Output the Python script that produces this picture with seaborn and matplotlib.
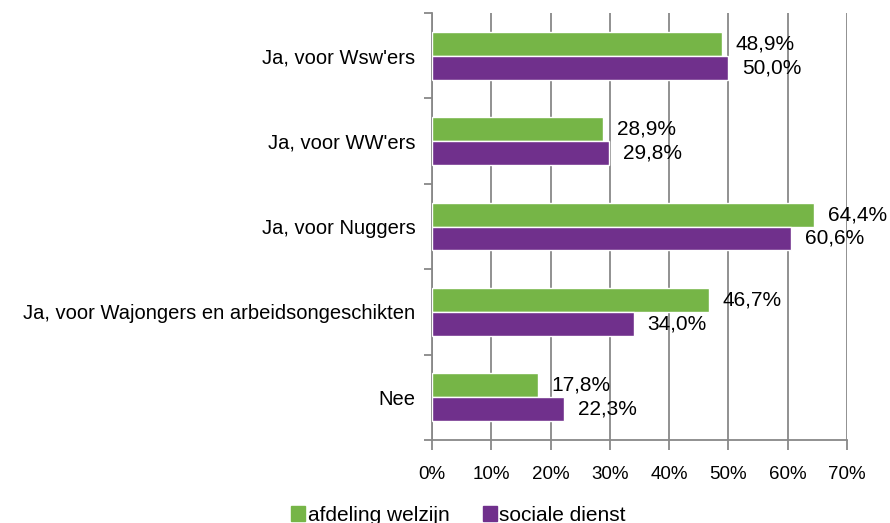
import matplotlib.pyplot as plt
import numpy as np
import pandas as pd
import seaborn as sns

categories = ["Ja, voor Wsw'ers", "Ja, voor WW'ers", "Ja, voor Nuggers",
              "Ja, voor Wajongers en arbeidsongeschikten", "Nee"]
series = ["afdeling welzijn", "sociale dienst"]
welzijn = [48.9, 28.9, 64.4, 46.7, 17.8]
sociale = [50.0, 29.8, 60.6, 34.0, 22.3]
colors = ["#76B547", "#70308C"]

df = pd.DataFrame({
    "categorie": categories * 2,
    "reeks": [series[0]] * len(categories) + [series[1]] * len(categories),
    "waarde": welzijn + sociale,
})

sns.set_style("white")
plt.rcParams['font.family'] = ['Liberation Sans', 'DejaVu Sans']
plt.rcParams['text.color'] = 'black'
plt.rcParams['xtick.labelcolor'] = 'black'
plt.rcParams['ytick.labelcolor'] = 'black'

fig = plt.figure(figsize=(8.9, 5.23), dpi=100)
ax = fig.add_axes([0.4854, 0.1587, 0.4663, 0.8164])

sns.barplot(data=df, y="categorie", x="waarde", hue="reeks", order=categories,
            hue_order=series, palette=colors, orient="h", width=0.56,
            saturation=1, ax=ax, legend=False, zorder=3)

# data labels
for cont in ax.containers:
    labels = ['{:.1f}%'.format(b.get_width()).replace('.', ',') for b in cont]
    ax.bar_label(cont, labels=labels, padding=10, fontsize=15, color='black')

ax.set_xlim(0, 70)
ax.set_ylim(len(categories) - 0.5, -0.5)
ax.set_xticks(np.arange(0, 71, 10))
ax.set_xticklabels(['{}%'.format(v) for v in range(0, 71, 10)], fontsize=13.5)
ax.tick_params(axis='x', which='major', direction='out', length=7, width=1.3,
               color='#888888', pad=12, bottom=True, labelcolor='black')
ax.xaxis.grid(True, color='#888888', linewidth=1.3, zorder=0)
ax.set_axisbelow(True)

# category labels, ticks between categories
ax.set_yticks(range(len(categories)))
ax.set_yticklabels(categories, fontsize=14.5)
ax.tick_params(axis='y', which='major', length=0, pad=12, labelcolor='black')
ax.set_yticks(np.arange(-0.5, len(categories), 1.0), minor=True)
ax.tick_params(axis='y', which='minor', direction='out', length=6, width=1.3,
               color='#888888', left=True)

for side in ['top', 'right']:
    ax.spines[side].set_visible(False)
for side in ['left', 'bottom']:
    ax.spines[side].set_color('#888888')
    ax.spines[side].set_linewidth(1.3)

ax.set_xlabel('')
ax.set_ylabel('')

handles = [plt.Rectangle((0, 0), 1, 1, color=c) for c in colors]
fig.legend(handles, series, loc='center', bbox_to_anchor=(0.515, 0.015), ncol=2,
           frameon=False, fontsize=15, handlelength=0.7, handleheight=0.7,
           handletextpad=0.1, columnspacing=1.6, labelcolor='black')

fig.savefig('out.png', dpi=100)
